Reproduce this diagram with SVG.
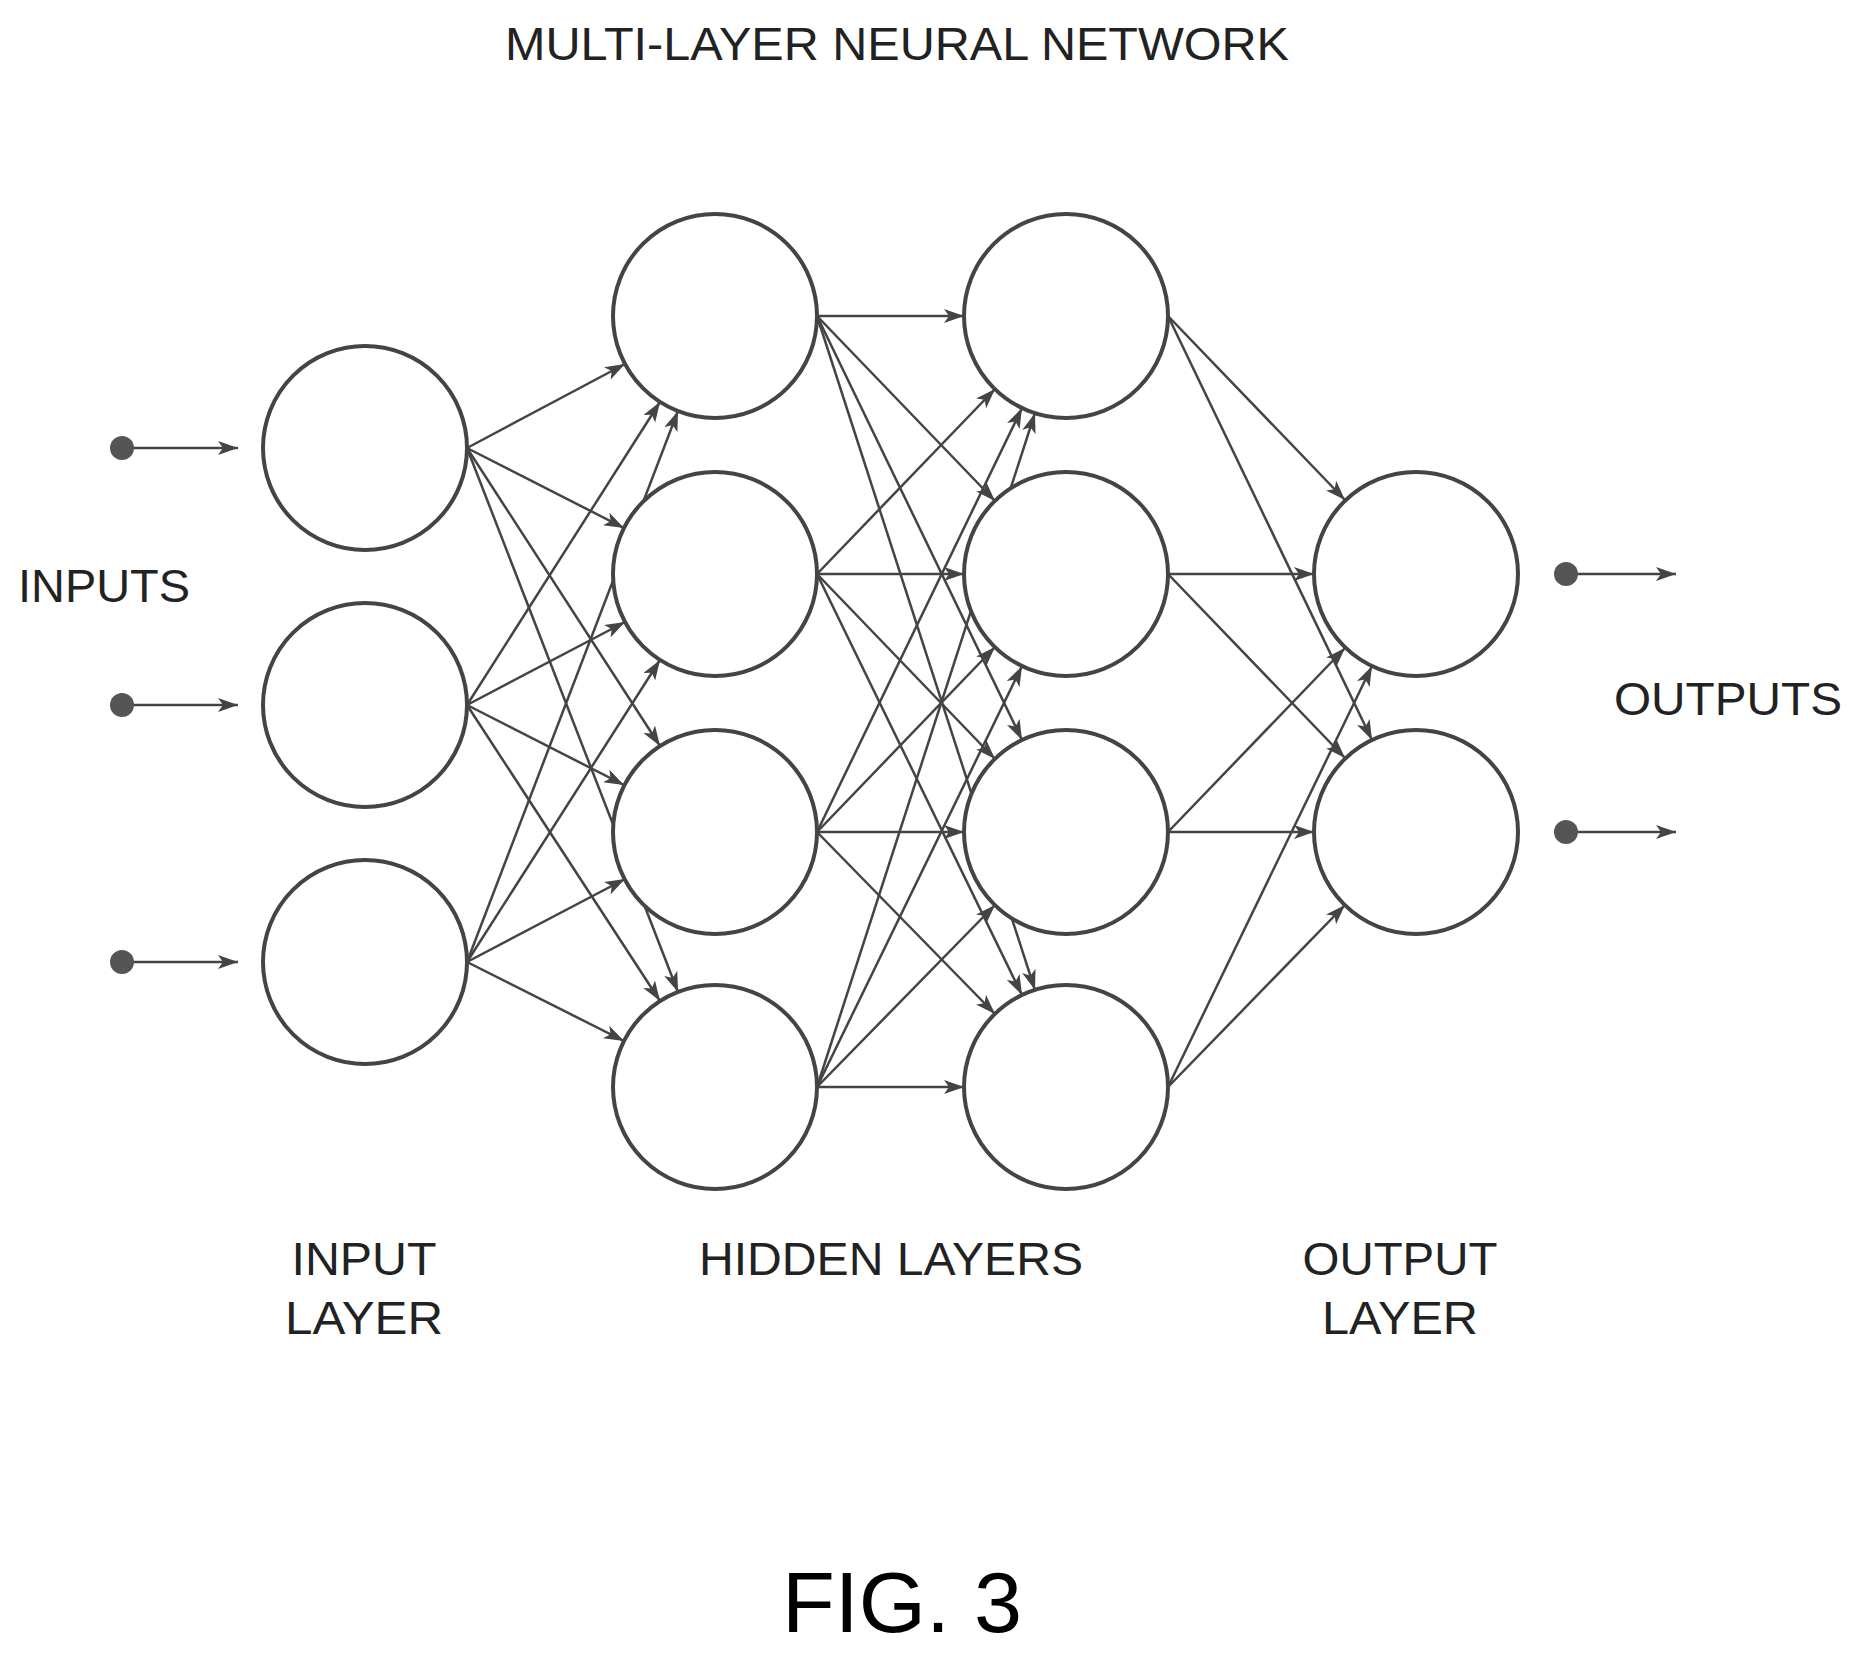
<svg xmlns="http://www.w3.org/2000/svg" width="1853" height="1660" viewBox="0 0 1853 1660">
<style>
.n{fill:#fff;stroke:#444;stroke-width:4}
.e path{stroke:#444;stroke-width:2.5;fill:none;marker-end:url(#a)}
.t{font-family:"Liberation Sans",Arial,sans-serif;font-size:46px;fill:#222;text-anchor:middle}
.d{fill:#555}
</style>
<defs><marker id="a" markerUnits="userSpaceOnUse" markerWidth="22" markerHeight="14" refX="20" refY="7" orient="auto"><path d="M0,0 L20,7 L0,14 L5,7 Z" fill="#444"/></marker></defs>
<rect width="1853" height="1660" fill="#fff"/>
<g id="connectors" class="e">
<path d="M467,448L625,364"/><path d="M467,448L624,528"/><path d="M467,448L660,746"/><path d="M467,448L678,992"/>
<path d="M467,705L660,402"/><path d="M467,705L625,622"/><path d="M467,705L624,785"/><path d="M467,705L660,1001"/>
<path d="M467,962L678,411"/><path d="M467,962L660,660"/><path d="M467,962L625,879"/><path d="M467,962L624,1041"/>
<path d="M817,316L964,316"/><path d="M817,316L995,501"/><path d="M817,316L1022,740"/><path d="M817,316L1035,990"/>
<path d="M817,574L995,389"/><path d="M817,574L964,574"/><path d="M817,574L995,759"/><path d="M817,574L1022,995"/>
<path d="M817,832L1022,408"/><path d="M817,832L995,647"/><path d="M817,832L964,832"/><path d="M817,832L995,1014"/>
<path d="M817,1087L1035,413"/><path d="M817,1087L1022,666"/><path d="M817,1087L995,905"/><path d="M817,1087L964,1087"/>
<path d="M1168,316L1345,500"/><path d="M1168,316L1372,740"/><path d="M1168,574L1314,574"/><path d="M1168,574L1345,758"/>
<path d="M1168,832L1345,648"/><path d="M1168,832L1314,832"/><path d="M1168,1087L1372,666"/><path d="M1168,1087L1345,905"/>
<path d="M122,448L238,448"/><path d="M122,705L238,705"/><path d="M122,962L238,962"/><path d="M1566,574L1676,574"/><path d="M1566,832L1676,832"/>
</g>
<g id="io-dots"><circle class="d" cx="122" cy="448" r="12"/><circle class="d" cx="122" cy="705" r="12"/><circle class="d" cx="122" cy="962" r="12"/><circle class="d" cx="1566" cy="574" r="12"/><circle class="d" cx="1566" cy="832" r="12"/></g>
<g id="in1"><circle class="n" cx="365" cy="448" r="102"/></g>
<g id="in2"><circle class="n" cx="365" cy="705" r="102"/></g>
<g id="in3"><circle class="n" cx="365" cy="962" r="102"/></g>
<g id="h1a"><circle class="n" cx="715" cy="316" r="102"/></g>
<g id="h1b"><circle class="n" cx="715" cy="574" r="102"/></g>
<g id="h1c"><circle class="n" cx="715" cy="832" r="102"/></g>
<g id="h1d"><circle class="n" cx="715" cy="1087" r="102"/></g>
<g id="h2a"><circle class="n" cx="1066" cy="316" r="102"/></g>
<g id="h2b"><circle class="n" cx="1066" cy="574" r="102"/></g>
<g id="h2c"><circle class="n" cx="1066" cy="832" r="102"/></g>
<g id="h2d"><circle class="n" cx="1066" cy="1087" r="102"/></g>
<g id="o1"><circle class="n" cx="1416" cy="574" r="102"/></g>
<g id="o2"><circle class="n" cx="1416" cy="832" r="102"/></g>
<g id="labels">
<text class="t" x="897" y="60" textLength="784" lengthAdjust="spacingAndGlyphs">MULTI-LAYER NEURAL NETWORK</text>
<text class="t" x="104" y="602" textLength="172" lengthAdjust="spacingAndGlyphs">INPUTS</text>
<text class="t" x="1728" y="715" textLength="228" lengthAdjust="spacingAndGlyphs">OUTPUTS</text>
<text class="t" x="364" y="1275" textLength="145" lengthAdjust="spacingAndGlyphs">INPUT</text>
<text class="t" x="364" y="1334" textLength="158" lengthAdjust="spacingAndGlyphs">LAYER</text>
<text class="t" x="891" y="1275" textLength="384" lengthAdjust="spacingAndGlyphs">HIDDEN LAYERS</text>
<text class="t" x="1400" y="1275" textLength="195" lengthAdjust="spacingAndGlyphs">OUTPUT</text>
<text class="t" x="1400" y="1334" textLength="156" lengthAdjust="spacingAndGlyphs">LAYER</text>
<text class="t" x="902" y="1632" style="font-size:86px;fill:#000" textLength="240" lengthAdjust="spacingAndGlyphs">FIG. 3</text>
</g>
</svg>
